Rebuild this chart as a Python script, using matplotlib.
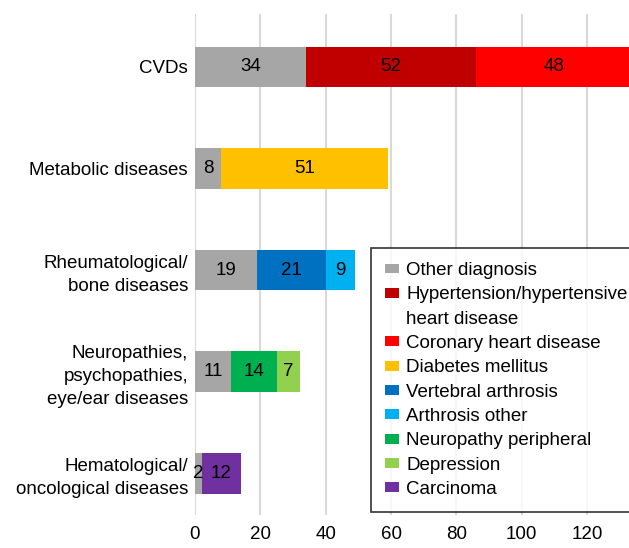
import numpy as np
import matplotlib.pyplot as plt
from matplotlib.patches import Patch

plt.rcParams['font.family'] = ['Liberation Sans', 'DejaVu Sans']

groups = ['CVDs', 'Metabolic diseases', 'Rheumatological/\nbone diseases',
          'Neuropathies,\npsychopathies,\neye/ear diseases',
          'Hematological/\noncological diseases']

series = ['Other diagnosis', 'Hypertension/hypertensive\nheart disease',
          'Coronary heart disease', 'Diabetes mellitus', 'Vertebral arthrosis',
          'Arthrosis other', 'Neuropathy peripheral', 'Depression', 'Carcinoma']
colors = ['#A6A6A6', '#C00000', '#FF0000', '#FFC000', '#0070C0',
          '#00B0F0', '#00B050', '#92D050', '#7030A0']

other = [34, 8, 19, 11, 2]
hypertension = [52, 0, 0, 0, 0]
coronary = [48, 0, 0, 0, 0]
diabetes = [0, 51, 0, 0, 0]
vertebral = [0, 0, 21, 0, 0]
arthrosis = [0, 0, 9, 0, 0]
neuropathy = [0, 0, 0, 14, 0]
depression = [0, 0, 0, 7, 0]
carcinoma = [0, 0, 0, 0, 12]

values = [other, hypertension, coronary, diabetes, vertebral,
          arthrosis, neuropathy, depression, carcinoma]

fs = 13.5

fig = plt.figure(figsize=(6.29, 5.48), dpi=100)
ax = fig.add_axes([195 / 629, 33 / 548, 434 / 629, 501 / 548])

y = np.arange(len(groups))
left = np.zeros(len(groups))
handles, labels = [], []
for name, vals, c in zip(series, values, colors):
    vals = np.array(vals, dtype=float)
    ax.barh(y, vals, left=left, height=0.4, color=c, zorder=2)
    for i, v in enumerate(vals):
        if v > 0:
            ax.text(left[i] + v / 2, y[i], f'{int(v)}', ha='center', va='center',
                    fontsize=fs, color='black', zorder=3)
    left += vals
    # legend: keep the swatch on the first line of a wrapped label
    lines = name.split('\n')
    handles.append(Patch(facecolor=c))
    labels.append(lines[0])
    for extra in lines[1:]:
        handles.append(Patch(facecolor='none', edgecolor='none'))
        labels.append(extra)

ax.set_xlim(0, 132.8)
ax.set_ylim(4.41, -0.52)
ax.set_xticks(np.arange(0, 121, 20))
ax.set_yticks(y)
ax.set_yticklabels(groups, fontsize=fs, linespacing=1.45)
ax.tick_params(axis='both', length=0, labelsize=fs)
ax.tick_params(axis='y', pad=5)
ax.tick_params(axis='x', pad=8)
ax.grid(axis='x', color='#D9D9D9', linewidth=1.5, zorder=0)
ax.set_axisbelow(True)
for s in ax.spines.values():
    s.set_visible(False)

leg = ax.legend(handles, labels, loc='lower left', bbox_to_anchor=(0.405, 0.006),
                fontsize=fs, frameon=True, fancybox=False, edgecolor='black',
                handlelength=0.75, handleheight=0.43, handletextpad=0.4,
                labelspacing=0.39, borderpad=0.75, borderaxespad=0)
leg.get_frame().set_linewidth(1.2)

fig.savefig('out.png', dpi=100)
